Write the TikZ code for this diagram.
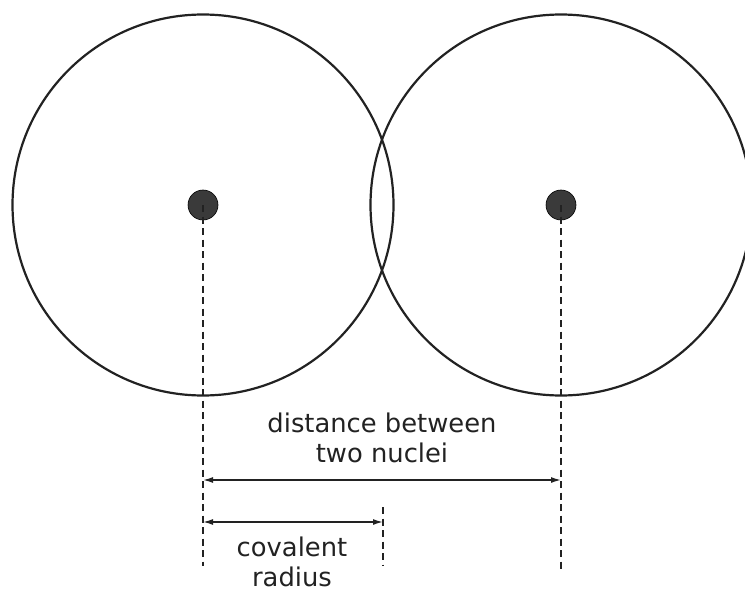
\documentclass[tikz,border=0pt]{standalone}
\usepackage{fontspec}
\setmainfont{DejaVu Sans}
\usepackage{tikz}
\usetikzlibrary{arrows.meta,positioning}
\definecolor{nucgray}{HTML}{3A3A3A}
\definecolor{linegray}{HTML}{222222}

\begin{document}
\begin{tikzpicture}[x=1pt, y=-1pt, >={Latex[length=10pt,width=6pt]}, every node/.style={font=\fontsize{25.8}{30.5}\selectfont, text=linegray}]
  \useasboundingbox (0,0) rectangle (745,594);
  \clip (0,0) rectangle (745,594);
  \coordinate (ncA) at (203,205);
  \coordinate (ncB) at (561,205);
  \node[draw=linegray, circle, line width=2.2pt, minimum size=381pt, inner sep=0pt] (atomA) at (ncA) {};
  \node[draw=linegray, circle, line width=2.2pt, minimum size=381pt, inner sep=0pt] (atomB) at (ncB) {};
  \node[draw=black, fill=nucgray, circle, line width=0.6pt, minimum size=30pt, inner sep=0pt] (nucA) at (ncA) {};
  \node[draw=black, fill=nucgray, circle, line width=0.6pt, minimum size=30pt, inner sep=0pt] (nucB) at (ncB) {};

  \coordinate (footA) at (203,566);
  \coordinate (footB) at (561,573);
  \coordinate (radTop) at (383,507);
  \coordinate (radBot) at (383,566);
  \draw[linegray, line width=1.1pt, dash pattern=on 7pt off 4.5pt] (nucA.center) -- (footA);
  \draw[linegray, line width=1.1pt, dash pattern=on 7pt off 4.5pt] (nucB.center) -- (footB);
  \draw[linegray, line width=1.1pt, dash pattern=on 7pt off 4.5pt] (radTop) -- (radBot);

  \coordinate (distL) at (203,480);
  \coordinate (distR) at (561,480);
  \coordinate (radL) at (203,522);
  \coordinate (radR) at (383,522);
  \draw[<->, linegray, line width=1.5pt] (distL) -- (distR);
  \draw[<->, linegray, line width=1.5pt] (radL) -- (radR);

  \node[align=center, inner sep=1pt] (distLabel) at (382,438) {distance between\\two nuclei};
  \node[align=center, inner sep=0pt] (radLabel) at (292,562) {covalent\\radius};
\end{tikzpicture}
\end{document}
